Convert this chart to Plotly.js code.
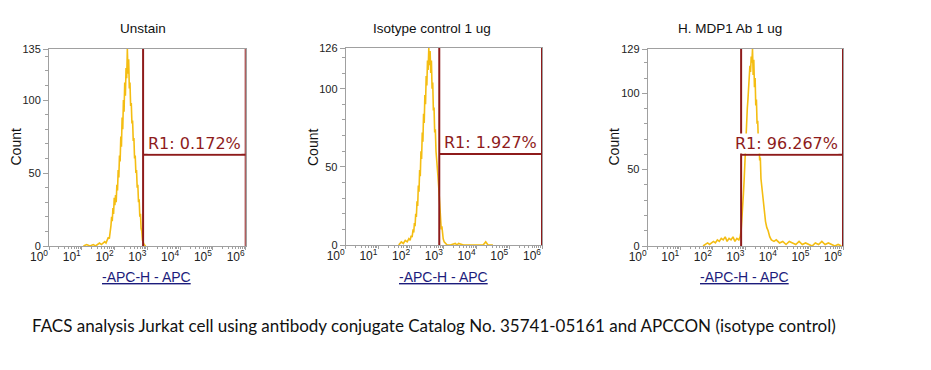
<!DOCTYPE html>
<html>
<head>
<meta charset="utf-8">
<script src="https://cdn.plot.ly/plotly-3.0.1.min.js"></script>
<style>html,body{margin:0;padding:0;background:#fff;}#chart{width:931px;height:370px;}</style>
</head>
<body>
<div id="chart"></div>
<script>
// ---- data (x values are log10 of APC-H intensity; y are cell counts) ----
var panelTitles = ["Unstain", "Isotype control 1 ug", "H. MDP1 Ab 1 ug"];
var gateLabels = ["R1: 0.172%", "R1: 1.927%", "R1: 96.267%"];
var yMax = [135, 126, 129];
var gateLowLog = [2.87, 2.86, 2.87];
var gateHighLog = [6, 6, 6];
var gateCount = [62.6, 58.2, 59.8];
var xTickLabels = ["10<sup>0</sup>","10<sup>1</sup>","10<sup>2</sup>","10<sup>3</sup>","10<sup>4</sup>","10<sup>5</sup>","10<sup>6</sup>"];
var xTickDecades = [0,1,2,3,4,5,6];

var unstainLog = [1.05,1.15,1.25,1.35,1.42,1.48,1.54,1.60,1.65,1.70,1.74,1.78,1.81,1.84,1.87,1.89,1.91,1.93,1.95,1.97,1.99,2.01,2.03,2.05,2.07,2.09,2.11,2.13,2.15,2.17,2.19,2.21,2.23,2.25,2.27,2.29,2.31,2.33,2.35,2.37,2.39,2.41,2.43,2.45,2.47,2.49,2.51,2.53,2.55,2.57,2.59,2.61,2.63,2.65,2.67,2.69,2.71,2.73,2.75,2.77,2.79,2.81,2.83,2.85,2.87,2.90,2.95];
var unstainCount = [0,1,0,1,0,1,2,1,2,3,2,4,6,5,9,14,20,17,26,22,33,28,35,30,42,38,52,47,62,58,75,68,88,80,100,92,112,103,122,115,135,118,128,108,112,96,98,84,86,72,74,60,62,50,52,40,42,30,32,20,22,12,10,4,2,1,0];

var isotypeLog = [1.62,1.70,1.76,1.82,1.88,1.93,1.97,2.00,2.03,2.06,2.08,2.10,2.12,2.14,2.16,2.18,2.20,2.22,2.24,2.26,2.28,2.30,2.32,2.34,2.36,2.38,2.40,2.42,2.44,2.46,2.48,2.50,2.52,2.54,2.56,2.58,2.60,2.62,2.64,2.66,2.68,2.70,2.72,2.74,2.76,2.78,2.80,2.82,2.84,2.86,2.88,2.90,2.92,2.94,2.96,2.98,3.01,3.05,3.10,3.20,3.35,3.40,3.45,3.60,4.20,4.28,4.35,4.50];
var isotypeCount = [0,2,1,3,2,4,3,6,5,10,8,14,12,20,18,28,25,38,34,48,44,60,55,72,66,84,78,96,90,108,102,118,112,126,115,124,110,118,100,104,86,88,72,74,60,56,50,44,38,30,22,14,10,12,6,4,2,1,0,0,1,0,1,0,0,2,0,0];

var mdp1Log = [1.70,1.78,1.84,1.90,1.96,2.02,2.08,2.14,2.20,2.26,2.32,2.38,2.44,2.50,2.56,2.62,2.68,2.74,2.80,2.84,2.87,2.90,2.92,2.94,2.96,2.98,3.00,3.02,3.04,3.06,3.08,3.10,3.12,3.14,3.16,3.18,3.20,3.22,3.24,3.26,3.28,3.30,3.32,3.34,3.36,3.38,3.40,3.42,3.44,3.46,3.48,3.50,3.52,3.55,3.58,3.62,3.66,3.70,3.75,3.80,3.88,3.95,4.05,4.15,4.25,4.35,4.45,4.55,4.65,4.75,4.85,4.95,5.05,5.15,5.25,5.35,5.45,5.55,5.65,5.75,5.85,5.95];
var mdp1Count = [0,1,2,1,2,3,2,4,3,5,4,6,3,5,4,6,3,5,4,6,10,18,24,34,42,54,62,72,80,90,96,104,110,118,114,124,120,129,112,122,104,110,92,96,80,82,68,70,56,58,44,40,32,28,20,16,12,10,6,4,3,4,2,3,1,3,2,1,3,1,2,1,0,2,1,3,1,2,1,0,1,0];

var seriesX = [unstainLog, isotypeLog, mdp1Log];
var seriesY = [unstainCount, isotypeCount, mdp1Count];

// ---- layout geometry (pixels in a 931x370 page) ----
var W = 931, H = 370;
var boxes = [
  {l:49, r:245.7, t:49, b:246, titleX:142.5, countX:15, xtitleX:146.7},
  {l:345.7, r:542, t:48, b:245, titleX:431.7, countX:312.5, xtitleX:443.7},
  {l:647.7, r:843, t:49, b:246, titleX:730.3, countX:613, xtitleX:744.3}
];
var HIST = '#F4BD12', GATE = '#8E1B1B', AXC = '#a0a0a0';
var minorVals = [];
for (var n = 0; n < 6; n++) for (var k = 2; k <= 9; k++) minorVals.push(n + Math.log10(k));

var data = [], shapes = [], annotations = [];
var layout = {
  width: W, height: H, margin: {l:0, r:0, t:0, b:0},
  paper_bgcolor: '#fff', plot_bgcolor: '#fff', showlegend: false,
  font: {family: 'Liberation Sans, Arial, sans-serif', color: '#222'}
};

for (var i = 0; i < 3; i++) {
  var sx = i === 0 ? '' : String(i + 1);
  var bx = boxes[i];
  data.push({
    x: seriesX[i], y: seriesY[i], xaxis: 'x' + sx, yaxis: 'y' + sx,
    type: 'scatter', mode: 'lines', line: {color: HIST, width: 1.6}, hoverinfo: 'skip'
  });
  layout['xaxis' + sx] = {
    domain: [bx.l / W, bx.r / W], anchor: 'y' + sx, range: [0, 6], fixedrange: true,
    tickmode: 'array', tickvals: xTickDecades, ticktext: xTickLabels,
    ticklabelposition: 'outside left',
    ticks: 'outside', ticklen: 3, tickwidth: 1, tickcolor: AXC,
    showline: true, linecolor: AXC, linewidth: 1, mirror: true,
    showgrid: false, zeroline: false,
    tickfont: {size: 12, family: 'Liberation Sans, Arial, sans-serif', color: '#222'},
    minor: {tickmode: 'array', tickvals: minorVals, ticks: 'outside', ticklen: 2, tickcolor: AXC, showgrid: false}
  };
  layout['yaxis' + sx] = {
    domain: [1 - bx.b / H, 1 - bx.t / H], anchor: 'x' + sx, range: [0, yMax[i]], fixedrange: true,
    tickmode: 'array', tickvals: [0, 50, 100, yMax[i]],
    ticks: 'outside', ticklen: 5, tickwidth: 1, tickcolor: AXC,
    showline: true, linecolor: AXC, linewidth: 1, mirror: true,
    showgrid: false, zeroline: false,
    tickfont: {size: 11, family: 'Liberation Sans, Arial, sans-serif', color: '#222'},
    minor: {tickmode: 'linear', tick0: 0, dtick: 10, ticks: 'outside', ticklen: 3, tickcolor: AXC, showgrid: false}
  };
  var xr = 'x' + sx, yr = 'y' + sx;
  shapes.push({type: 'line', xref: xr, yref: yr, x0: gateLowLog[i], x1: gateLowLog[i], y0: 0, y1: yMax[i], line: {color: GATE, width: 2}});
  shapes.push({type: 'line', xref: xr, yref: yr, x0: gateHighLog[i], x1: gateHighLog[i], y0: 0, y1: yMax[i], line: {color: GATE, width: 2}});
  shapes.push({type: 'line', xref: xr, yref: yr, x0: gateLowLog[i], x1: gateHighLog[i], y0: gateCount[i], y1: gateCount[i], line: {color: GATE, width: 2}});
  annotations.push({
    xref: xr, yref: yr, x: gateHighLog[i], y: gateCount[i], xanchor: 'right', yanchor: 'bottom',
    xshift: -4, yshift: 1, showarrow: false, text: gateLabels[i], bgcolor: '#fff', borderpad: 0,
    font: {family: 'DejaVu Sans, Verdana, sans-serif', size: 16, color: GATE}
  });
  annotations.push({
    xref: 'paper', yref: 'paper', x: bx.titleX / W, y: 1 - 29 / H, xanchor: 'center', yanchor: 'middle',
    showarrow: false, text: panelTitles[i], font: {size: 13.5, color: '#111'}
  });
  annotations.push({
    xref: 'paper', yref: 'paper', x: bx.countX / W, y: 1 - 147.5 / H, xanchor: 'center', yanchor: 'middle',
    showarrow: false, text: 'Count', textangle: -90, font: {size: 14, color: '#111'}
  });
  annotations.push({
    xref: 'paper', yref: 'paper', x: bx.xtitleX / W, y: 1 - 277 / H, xanchor: 'center', yanchor: 'middle',
    showarrow: false, text: '<u>-APC-H - APC</u>', font: {size: 14, color: '#1c1c7c'}
  });
}
annotations.push({
  xref: 'paper', yref: 'paper', x: 433.5 / W, y: 1 - 325 / H, xanchor: 'center', yanchor: 'middle',
  showarrow: false, text: 'FACS analysis Jurkat cell using antibody conjugate Catalog No. 35741-05161 and APCCON (isotype control)',
  font: {family: 'Lato, Carlito, Calibri, sans-serif', size: 17, color: '#111'}
});
layout.shapes = shapes;
layout.annotations = annotations;

Plotly.newPlot('chart', data, layout, {displayModeBar: false, staticPlot: true});
</script>
</body>
</html>
